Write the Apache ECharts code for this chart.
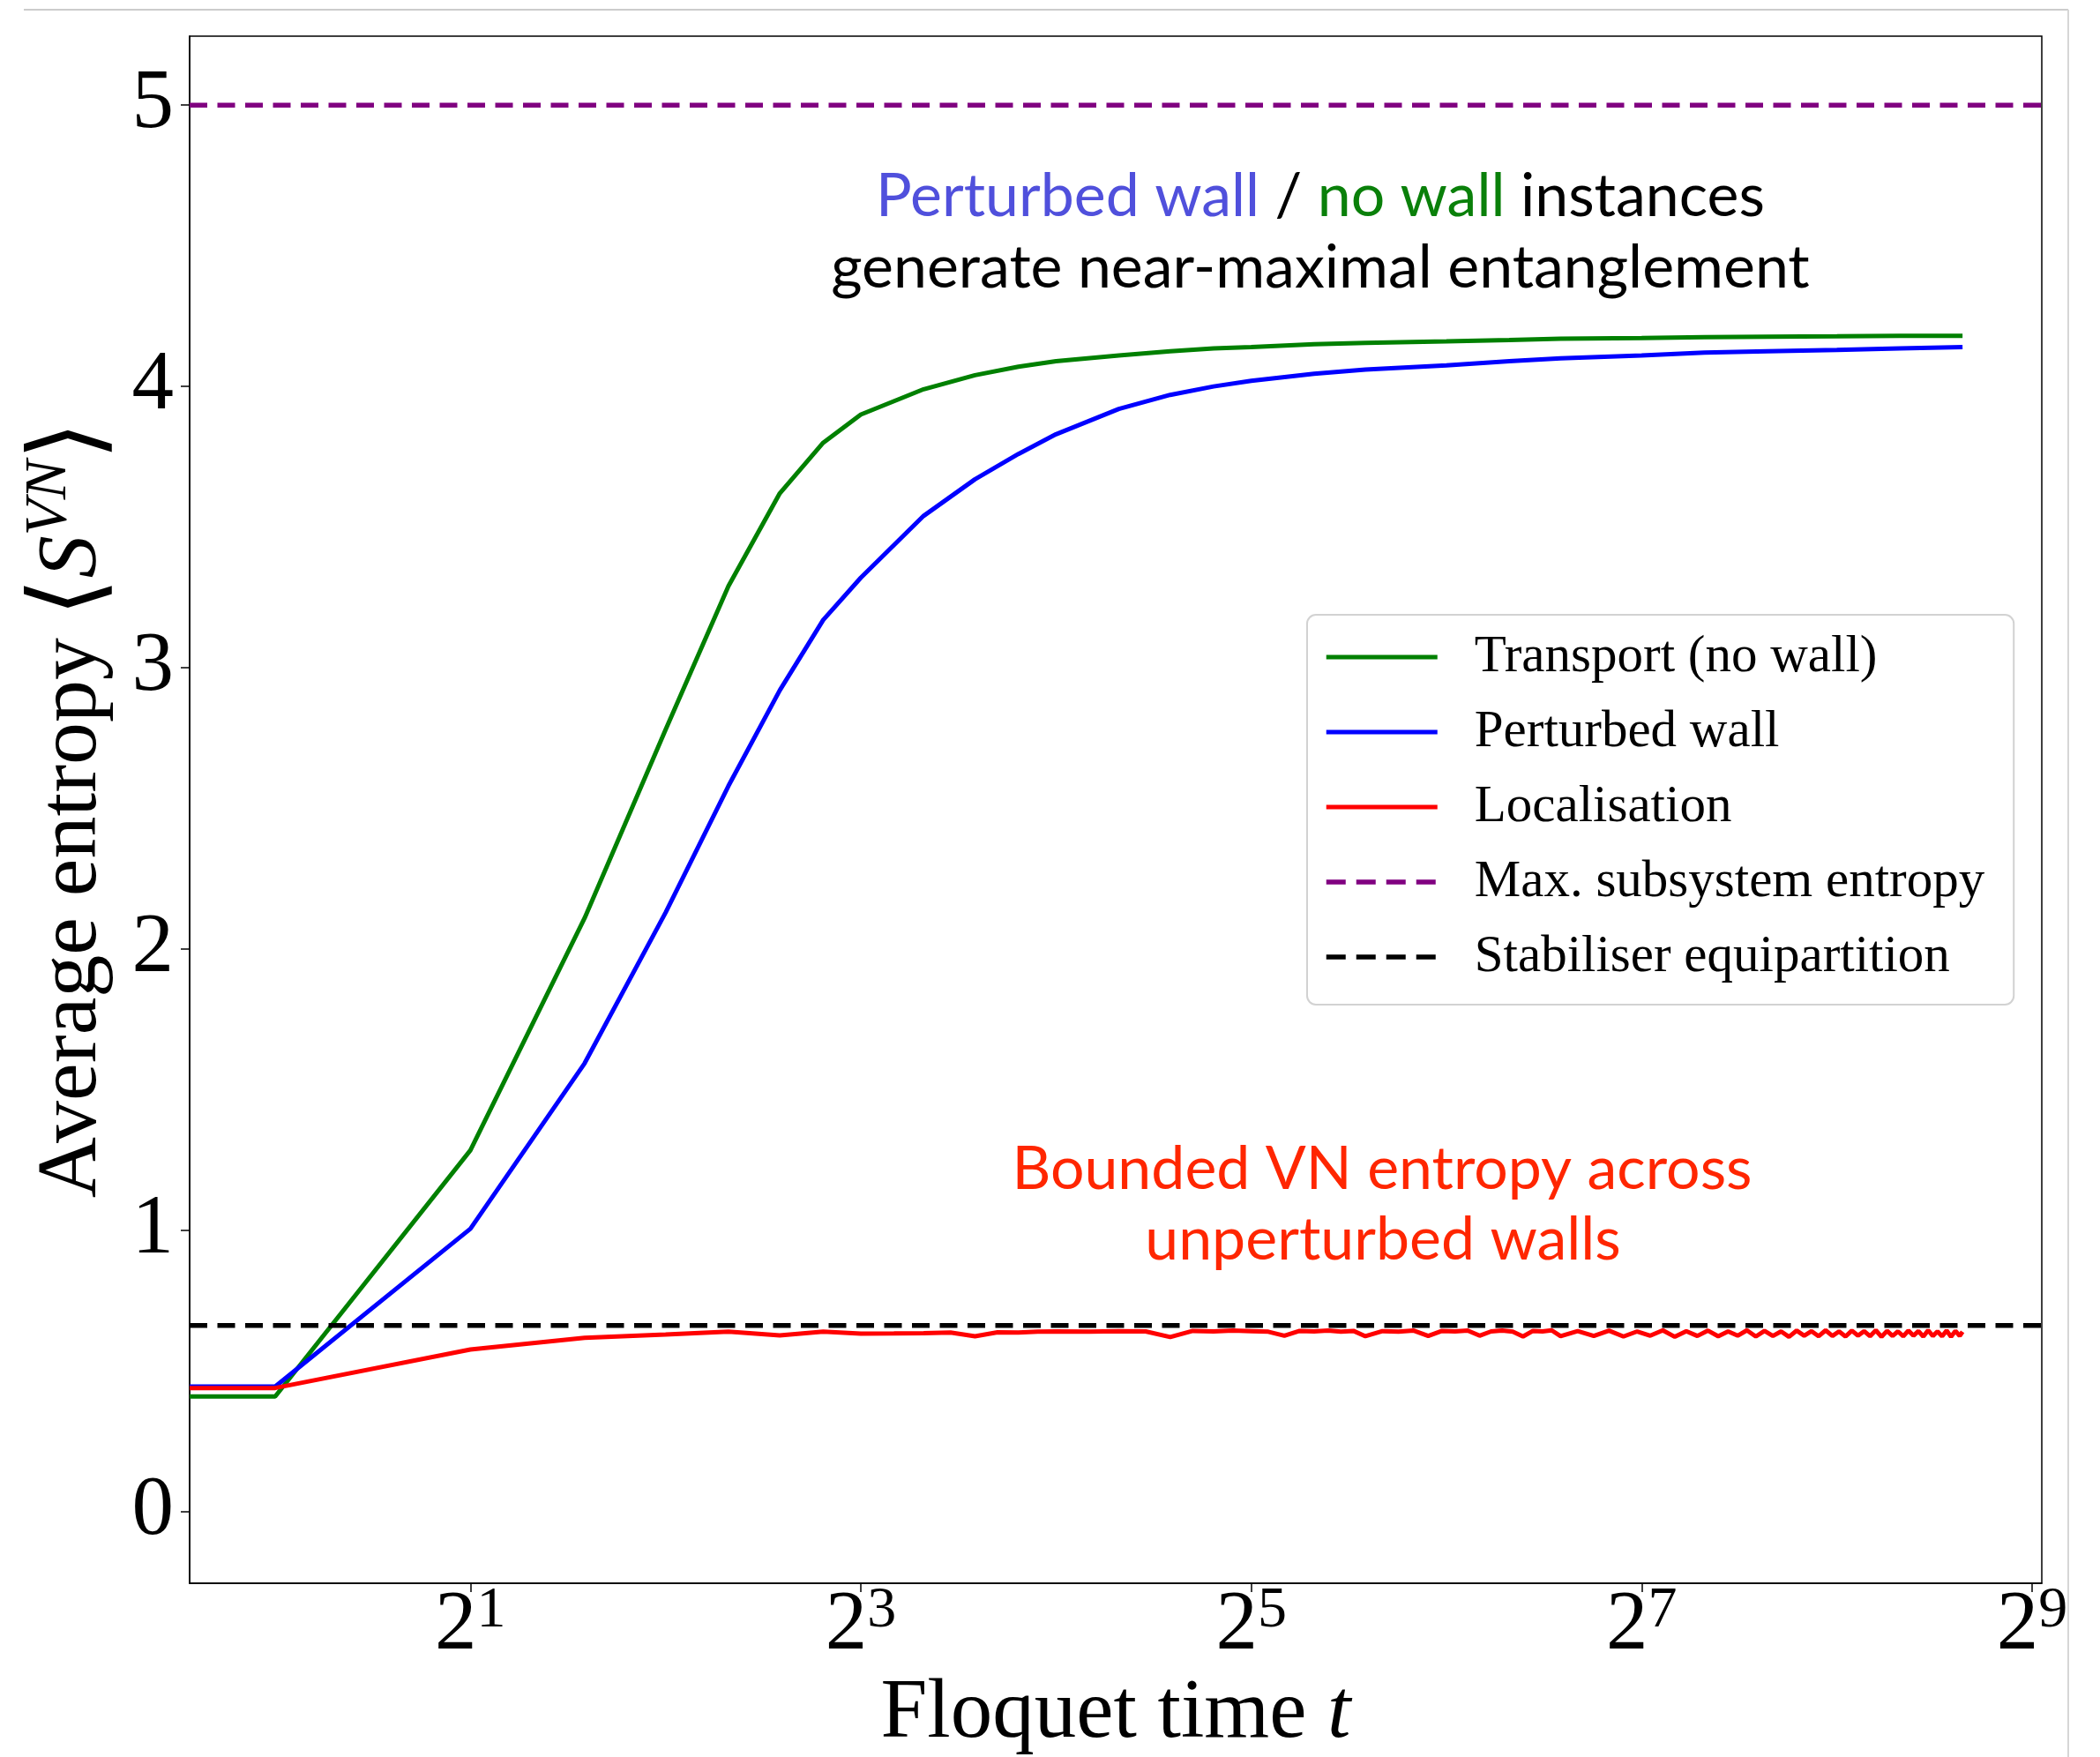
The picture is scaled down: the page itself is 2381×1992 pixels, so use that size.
<!doctype html>
<html>
<head>
<meta charset="utf-8">
<title>Average entropy vs Floquet time</title>
<script src="https://cdn.jsdelivr.net/npm/echarts@6/dist/echarts.min.js"></script>
<style>
html, body { margin: 0; padding: 0; background: #fff; }
#chart { width: 2381px; height: 1992px; }
</style>
</head>
<body>
<div id="chart"></div>
<script>
// x range of the log axis (t=0 is clipped to the left edge, like matplotlib does)
var xMin = 0.738, xMax = 530;

// Floquet times for the two smooth curves
var tSmooth = [xMin, 1, 2, 3, 4, 5, 6, 7, 8, 10, 12, 14, 16, 20, 24, 28, 32, 40, 48, 64, 80, 96, 128, 160, 200, 256, 320, 400];
var transport = [0.41, 0.41, 1.285, 2.11, 2.78, 3.29, 3.62, 3.80, 3.90, 3.99, 4.04, 4.07, 4.09, 4.11, 4.125, 4.135, 4.14, 4.15, 4.155, 4.16, 4.165, 4.17, 4.172, 4.175, 4.177, 4.178, 4.18, 4.18];
var perturbed = [0.445, 0.445, 1.006, 1.594, 2.13, 2.58, 2.92, 3.17, 3.32, 3.54, 3.67, 3.76, 3.83, 3.92, 3.97, 4.00, 4.02, 4.045, 4.06, 4.075, 4.09, 4.10, 4.11, 4.12, 4.125, 4.13, 4.135, 4.14];

// localisation curve is noisy, sampled more densely
var tLocal = [xMin, 1, 2, 3, 4, 5, 6, 7, 8, 9, 10, 11, 12, 13, 14, 15, 16, 18, 20, 22, 24, 26, 28, 30, 32, 34, 36, 38, 40, 42, 44, 46, 48,
  51, 54, 57, 60, 63, 66, 69, 72, 75, 78, 81, 84, 87, 90, 93, 96,
  102, 108, 114, 120, 126, 132, 138, 144, 150, 156, 162, 168, 174, 180, 186, 192, 198, 204, 210, 216,
  222, 228, 234, 240, 246, 252, 258, 264, 270, 276, 282, 288, 294, 300, 306, 312, 318, 324, 330, 336,
  342, 348, 354, 360, 366, 372, 378, 384, 390, 396, 400];
var localisation = [0.44, 0.44, 0.577, 0.618, 0.630, 0.640, 0.627, 0.640, 0.633, 0.634, 0.635, 0.637, 0.624, 0.638, 0.637, 0.640, 0.641, 0.640, 0.642, 0.641, 0.621, 0.643, 0.641, 0.644, 0.642, 0.640, 0.626, 0.643, 0.641, 0.644, 0.640, 0.643, 0.624,
  0.642, 0.640, 0.644, 0.625, 0.643, 0.641, 0.644, 0.626, 0.641, 0.644, 0.640, 0.623, 0.643, 0.641, 0.645, 0.624,
  0.642, 0.625, 0.644, 0.623, 0.641, 0.626, 0.645, 0.622, 0.642, 0.625, 0.644, 0.624, 0.641, 0.626, 0.645, 0.623, 0.643, 0.625, 0.641, 0.622,
  0.644, 0.626, 0.642, 0.624, 0.645, 0.625, 0.641, 0.623, 0.644, 0.626, 0.642, 0.624, 0.645, 0.622, 0.643, 0.625, 0.641, 0.624, 0.644, 0.626,
  0.642, 0.623, 0.645, 0.625, 0.641, 0.624, 0.644, 0.622, 0.643, 0.625, 0.640];

// reference levels
var maxEntropy = 5;
var stabiliserLevel = 0.662;

var xTicks = [2, 8, 32, 128, 512];
var yTicks = [0, 1, 2, 3, 4, 5];
var names = ['Transport (no wall)', 'Perturbed wall', 'Localisation', 'Max. subsystem entropy', 'Stabiliser equipartition'];

function pairs(xs, ys) {
  return xs.map(function (x, i) { return [x, ys[i]]; });
}

var serif = 'Liberation Serif, Times New Roman, serif';
var sans = 'Lato, Open Sans, sans-serif';
var dash = [20, 11.5];

var chart = echarts.init(document.getElementById('chart'));
chart.setOption({
  animation: false,
  backgroundColor: '#fff',
  grid: {
    left: 215, right: 66, top: 41, bottom: 197,
    outerBoundsMode: 'none',
    show: true, borderColor: '#000', borderWidth: 1.5
  },
  legend: {
    orient: 'vertical',
    left: 1482, top: 697,
    padding: [18, 33, 24, 19],
    itemWidth: 126, itemHeight: 14, itemGap: 25,
    backgroundColor: '#fff',
    borderColor: '#d2d2d2', borderWidth: 2, borderRadius: 10,
    itemStyle: { opacity: 0 },
    lineStyle: { width: 'inherit' },
    textStyle: { fontFamily: serif, fontSize: 59, color: '#000', lineHeight: 60, padding: [0, 0, 0, 37] },
    data: [
      names[0], names[1], names[2],
      { name: names[3], lineStyle: { type: [22, 12] } },
      { name: names[4], lineStyle: { type: [22, 12] } }
    ]
  },
  xAxis: {
    type: 'log', logBase: 2,
    min: xMin, max: xMax,
    name: 'Floquet time {i|t}',
    nameLocation: 'middle', nameGap: 79,
    nameTextStyle: {
      fontFamily: serif, fontSize: 95, color: '#000',
      rich: { i: { fontFamily: serif, fontSize: 95, fontStyle: 'italic', color: '#000' } }
    },
    axisLine: { onZero: false, lineStyle: { color: '#000', width: 1.5 } },
    axisTick: { customValues: xTicks, length: 10, lineStyle: { color: '#000', width: 1.5 } },
    minorTick: { show: false },
    splitLine: { show: false },
    axisLabel: {
      customValues: xTicks,
      margin: -1,
      formatter: function (v) {
        return '{b|2}{s|' + Math.round(Math.log2(v)) + '}';
      },
      rich: {
        b: { fontFamily: serif, fontSize: 95, color: '#000', lineHeight: 100 },
        s: { fontFamily: serif, fontSize: 66, color: '#000', verticalAlign: 'top', lineHeight: 54 }
      }
    }
  },
  yAxis: {
    type: 'value',
    min: -0.254, max: 5.245,
    name: '{n|Average entropy }{a|\u27E8}{s|S}{p|VN}{a|\u27E9}',
    nameLocation: 'middle', nameGap: 53,
    nameTextStyle: {
      fontFamily: serif, fontSize: 96, color: '#000',
      rich: {
        n: { fontFamily: serif, fontSize: 96, color: '#000', lineHeight: 120 },
        a: { fontFamily: 'DejaVu Serif, DejaVu Sans, serif', fontSize: 112, color: '#000', lineHeight: 120 },
        s: { fontFamily: serif, fontSize: 96, fontStyle: 'italic', color: '#000', lineHeight: 120 },
        p: { fontFamily: serif, fontSize: 67, fontStyle: 'italic', color: '#000', verticalAlign: 'top', lineHeight: 90 }
      }
    },
    axisLine: { show: true, lineStyle: { color: '#000', width: 1.5 } },
    axisTick: { show: true, customValues: yTicks, length: 10, lineStyle: { color: '#000', width: 1.5 } },
    splitLine: { show: false },
    axisLabel: {
      customValues: yTicks,
      margin: 18,
      fontFamily: serif, fontSize: 95, color: '#000'
    }
  },
  series: [
    {
      name: names[0], type: 'line', symbol: 'none', showSymbol: false,
      color: '#008000', lineStyle: { color: '#008000', width: 5 },
      data: pairs(tSmooth, transport)
    },
    {
      name: names[1], type: 'line', symbol: 'none', showSymbol: false,
      color: '#0000ff', lineStyle: { color: '#0000ff', width: 5 },
      data: pairs(tSmooth, perturbed)
    },
    {
      name: names[2], type: 'line', symbol: 'none', showSymbol: false,
      color: '#ff0000', lineStyle: { color: '#ff0000', width: 5 },
      data: pairs(tLocal, localisation)
    },
    {
      name: names[3], type: 'line', symbol: 'none', showSymbol: false,
      color: '#800080', lineStyle: { color: '#800080', width: 5.5, type: dash },
      data: [[xMin, maxEntropy], [xMax, maxEntropy]]
    },
    {
      name: names[4], type: 'line', symbol: 'none', showSymbol: false,
      color: '#000', lineStyle: { color: '#000', width: 5.5, type: dash },
      data: [[xMin, stabiliserLevel], [xMax, stabiliserLevel]]
    }
  ],
  graphic: [
    { type: 'line', silent: true, shape: { x1: 27, y1: 11, x2: 2345, y2: 11 }, style: { stroke: '#cccccc', lineWidth: 2 } },
    { type: 'line', silent: true, shape: { x1: 2345, y1: 11, x2: 2345, y2: 1992 }, style: { stroke: '#d6d6d6', lineWidth: 2 } },
    {
      type: 'text', silent: true, x: 1497, y: 223,
      style: {
        text: '{b|Perturbed wall} {k|/} {g|no wall} {k|instances}',
        align: 'center', verticalAlign: 'middle',
        font: '68px ' + sans,
        rich: {
          b: { fill: '#5050dc', fontSize: 68, fontFamily: sans },
          g: { fill: '#0a800a', fontSize: 68, fontFamily: sans },
          k: { fill: '#000', fontSize: 68, fontFamily: sans }
        }
      }
    },
    {
      type: 'text', silent: true, x: 1497, y: 304,
      style: { text: 'generate near-maximal entanglement', align: 'center', verticalAlign: 'middle', fill: '#000', fontSize: 68, fontFamily: sans }
    },
    {
      type: 'text', silent: true, x: 1567, y: 1326,
      style: { text: 'Bounded VN entropy across', align: 'center', verticalAlign: 'middle', fill: '#ff2600', fontSize: 68, fontFamily: sans }
    },
    {
      type: 'text', silent: true, x: 1568, y: 1406,
      style: { text: 'unperturbed walls', align: 'center', verticalAlign: 'middle', fill: '#ff2600', fontSize: 68, fontFamily: sans }
    }
  ]
});
</script>
</body>
</html>
